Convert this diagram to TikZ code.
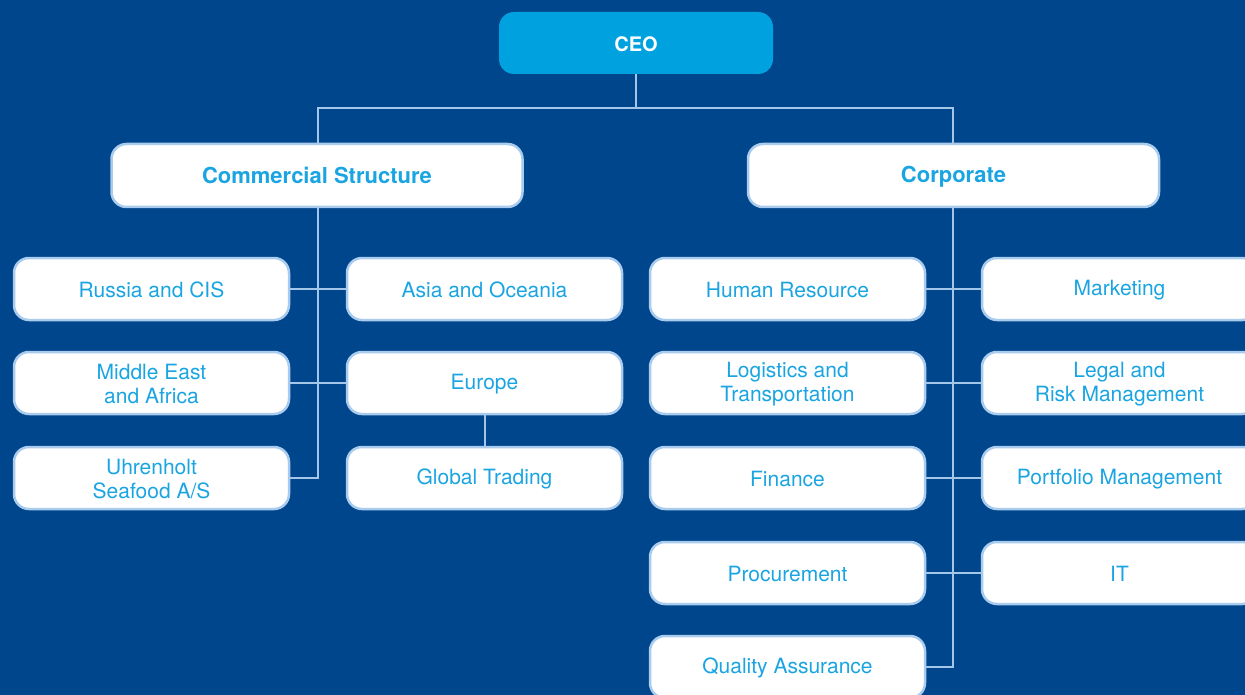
\documentclass[tikz,border=0pt]{standalone}
\usepackage{fontspec}
\setmainfont{TeX Gyre Heros}
\definecolor{bg}{HTML}{00468C}
\definecolor{ceoblue}{HTML}{00A1DF}
\definecolor{txt}{HTML}{1AA5E2}
\definecolor{edge}{HTML}{A9CCEE}
\definecolor{conncol}{HTML}{A4C6E8}
\newcommand\ms{\rule[-0.8pt]{0pt}{18.6pt}}
\tikzset{
  boxbase/.style={rectangle, rounded corners=15pt, inner sep=0pt, align=center},
  ceobox/.style={boxbase, fill=ceoblue, minimum width=274pt, minimum height=62pt,
    text=white, font=\fontsize{20}{24}\selectfont\bfseries},
  headbox/.style={boxbase, fill=white, draw=edge, line width=2.5pt, minimum width=411pt,
    minimum height=63pt, text=txt, font=\fontsize{22}{26}\selectfont\bfseries},
  unitbox/.style={boxbase, fill=white, draw=edge, line width=2.5pt, minimum width=275pt,
    minimum height=62pt, text=txt, font=\fontsize{21}{24}\selectfont},
  conn/.style={draw=conncol, line width=2pt}
}
\begin{document}
\begin{tikzpicture}[x=1pt,y=-1pt]
\clip (0,0) rectangle (1245,695);
\fill[bg] (0,0) rectangle (1245,695);
\coordinate (bus) at (636,108);
\coordinate (csj) at (318,108);
\coordinate (coj) at (953,108);
\node[ceobox] (ceo) at (636,43) {\ms CEO};
\node[headbox] (cs) at (317,175.5) {\ms Commercial Structure};
\node[headbox] (corp) at (953.5,175.5) {\ms Corporate};
% commercial
\node[unitbox] (rus) at (151.5,289) {\ms Russia and CIS};
\node[unitbox] (mea) at (151.5,383) {\ms Middle East\\\ms and Africa};
\node[unitbox] (uhr) at (151.5,478) {\ms Uhrenholt\\\ms Seafood A/S};
\node[unitbox] (asia) at (484.5,289) {\ms Asia and Oceania};
\node[unitbox] (eur) at (484.5,383) {\ms Europe};
\node[unitbox] (gt) at (484.5,478) {\ms Global Trading};
% corporate
\node[unitbox] (hr) at (787.5,289) {\ms Human Resource};
\node[unitbox] (log) at (787.5,383) {\ms Logistics and\\\ms Transportation};
\node[unitbox] (fin) at (787.5,478) {\ms Finance};
\node[unitbox] (proc) at (787.5,573) {\ms Procurement};
\node[unitbox] (qa) at (787.5,667) {\ms Quality Assurance};
\node[unitbox] (mkt) at (1119.5,289) {\ms Marketing};
\node[unitbox] (legal) at (1119.5,383) {\ms Legal and\\\ms Risk Management};
\node[unitbox] (port) at (1119.5,478) {\ms Portfolio Management};
\node[unitbox] (it) at (1119.5,573) {\ms IT};
% connectors
\draw[conn] (ceo.south) -- (bus);
\draw[conn] (cs.north -| csj) -- (csj) -- (coj) -- (corp.north -| coj);
\draw[conn] (cs.south -| csj) -- (csj |- uhr.east) -- (uhr.east);
\draw[conn] (rus.east) -- (asia.west);
\draw[conn] (mea.east) -- (eur.west);
\draw[conn] (eur.south) -- (gt.north);
\draw[conn] (corp.south -| coj) -- (coj |- qa.east) -- (qa.east);
\draw[conn] (hr.east) -- (mkt.west);
\draw[conn] (log.east) -- (legal.west);
\draw[conn] (fin.east) -- (port.west);
\draw[conn] (proc.east) -- (it.west);
\end{tikzpicture}
\end{document}
